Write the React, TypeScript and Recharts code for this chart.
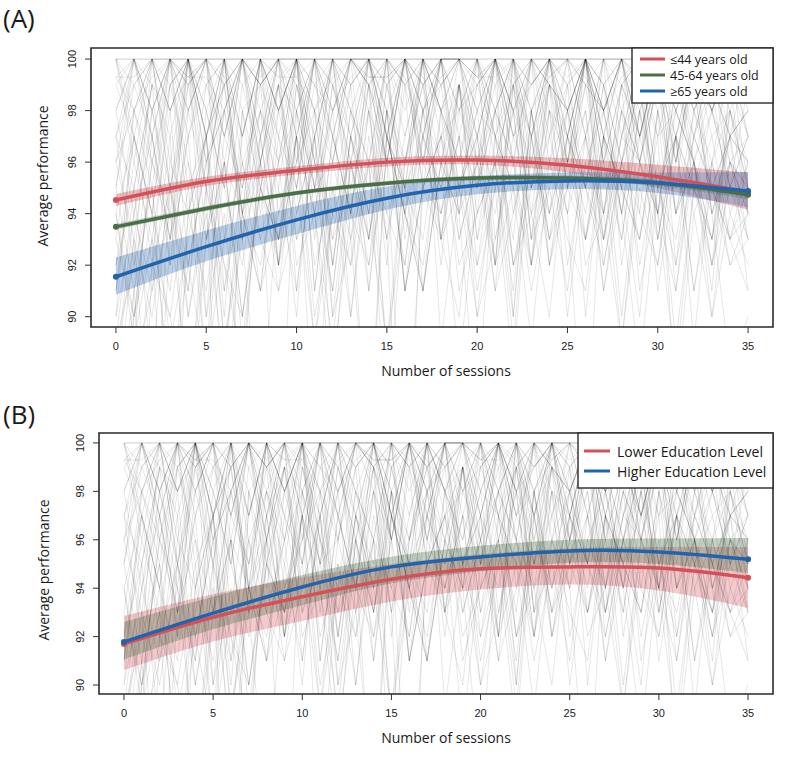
import React from "react";
import {
  ComposedChart,
  Line,
  Area,
  XAxis,
  YAxis,
  ReferenceArea,
} from "recharts";

// ---------- individual trajectories (performance per session 0..35) ----------
const s01 = [100,98,100,96,100,100,97,100,99,100,100,95, 100,98,100,100,100,97,100,100,99,100,96,100, 100,98,100,100,100,97,100,99,100,100,98,100];
const s02 = [92,95,88,96,94,97,90,98,95,93,99,96, 91,97,100,94,96,98,92,99,97,95,100,93, 98,96,99,94,97,100,95,98,96,93,99,97];
const s03 = [97,100,99,100,98,100,100,99,100,100,97,100, 100,100,99,100,98,100,100,100,100,99,100,97, 100,100,99,100,100,98,100,100,99,100,100,99];
const s04 = [85,90,93,80,94,91,96,89,95,93,97,90, 94,96,92,98,91,95,97,93,96,99,92,95, 98,94,97,93,96,99,94,97,95,92,96,94];
const s05 = [99.3,99.3,100,98,99.3,100,99.3,97,100,99.3,99.3,100, 98,100,99.3,99.3,100,99.3,98,100,99.3,100,99.3,97, 100,99.3,100,98,99.3,100,99.3,100,98,99.3,100,99.3];
const s06 = [94,89,97,92,100,95,78,98,93,96,100,91, 97,94,99,88,96,100,93,97,95,100,90,98, 94,97,100,92,96,99,93,97,91,96,98,95];
const s07 = [96,98,95,100,97,99,100,96,98,100,99,97, 100,98,96,100,99,100,97,98,100,96,99,100, 98,97,100,99,96,100,98,99,100,97,98,96];
const s08 = [88,93,84,95,91,97,89,94,96,82,98,92, 95,90,97,93,99,91,96,94,86,97,95,92, 98,90,96,94,99,91,95,97,89,96,93,91];
const s09 = [100,100,100,100,99,100,100,100,100,98,100,100, 100,100,100,99,100,100,100,100,100,100,98,100, 100,100,100,99,100,100,100,100,100,99,100,100];
const s10 = [91,96,93,98,90,95,100,94,97,92,99,95, 96,100,93,97,94,98,100,95,92,97,99,94, 96,100,93,98,95,97,100,94,96,92,98,94];
const s11 = [98,94,99,97,100,93,98,100,96,99,95,100, 97,94,100,98,96,99,100,95,98,97,100,93, 99,96,100,98,94,99,97,100,95,98,96,97];
const s12 = [82,91,95,89,93,97,86,94,92,96,90,98, 93,95,84,97,94,91,96,99,92,95,88,97, 93,96,98,91,95,93,97,87,94,96,92,93];
const s13 = [97,99,100,98,100,97,99,100,98,96,100,99, 97,100,98,100,99,96,100,98,99,100,97,100, 99,98,100,96,99,100,97,98,100,99,97,98];
const s14 = [93,90,96,94,91,98,95,92,97,100,93,96, 94,99,91,97,95,100,93,98,96,92,99,95, 97,94,100,96,93,98,95,97,99,94,96,95];
const s15 = [95,100,97,100,99,100,96,100,100,98,100,97, 100,100,99,100,100,96,100,100,98,100,99,100, 97,100,100,100,98,100,99,100,97,100,100,98];
const s16 = [87,76,92,90,95,88,93,96,91,94,97,85, 95,92,98,93,80,96,94,97,91,95,98,92, 96,94,84,97,95,93,98,91,96,94,88,90];
const s17 = [99,97,100,100,98,100,99,100,97,100,100,99, 98,100,100,97,100,99,100,100,98,100,97,99, 100,100,99,98,100,97,100,100,99,98,100,99];
const s18 = [90,94,97,93,99,95,91,97,100,94,96,98, 92,97,95,100,93,98,96,94,99,97,92,96, 100,95,98,93,97,96,100,94,98,95,97,96];
const s19 = [96,93,98,100,95,97,99,94,100,96,98,95, 100,97,93,99,96,100,98,95,97,100,96,94, 99,97,100,95,98,96,99,94,97,100,96,95];
const s20 = [84,88,91,94,87,93,96,90,95,92,97,94, 89,96,93,98,91,95,97,92,94,96,90,98, 93,95,97,91,96,94,92,97,95,93,96,94];
const s21 = [100,99,100,100,100,98,100,100,99,100,100,100, 97,100,100,100,99,100,100,98,100,100,100,99, 100,100,97,100,100,100,99,100,100,98,100,100];
const s22 = [94,97,92,99,96,93,98,95,100,92,97,94, 99,96,91,98,95,97,100,93,96,94,98,92, 97,99,95,93,98,96,94,99,97,95,93,96];
const s23 = [98,100,96,99,100,97,100,98,99,100,96,100, 99,97,100,98,100,99,96,100,97,100,98,99, 100,96,100,98,100,97,99,100,98,96,100,97];
const s24 = [89,92,95,86,94,97,92,90,96,93,98,95, 91,97,94,89,96,99,93,95,97,91,94,98, 92,96,93,97,95,90,98,94,96,92,95,93];
const s25 = [97,95,99,98,100,96,98,100,97,99,100,98, 96,100,99,97,100,98,99,100,96,98,100,97, 99,98,100,96,99,97,100,98,96,99,97,98];
const s26 = [92,97,94,91,98,95,100,93,96,99,94,97, 92,98,96,100,94,97,93,99,95,98,96,92, 100,97,94,99,96,93,98,95,100,94,97,96];
const s27 = [86,93,90,95,92,88,96,94,91,97,93,95, 98,90,96,94,92,97,95,99,93,96,91,98, 94,97,95,92,96,98,94,91,97,95,93,94];
const s28 = [99.3,100,98,100,99.3,100,100,97,100,99.3,100,100, 98,99.3,100,100,99.3,97,100,100,99.3,100,98,100, 99.3,100,100,97,100,99.3,100,98,100,100,99.3,100];
const s29 = [90,98,100,95,100,97,100,93,100,98,100,96, 100,94,100,99,100,95,100,97,100,92,100,98, 100,96,100,99,100,94,100,97,100,98,100,95];
const s30 = [95,91,98,94,100,90,97,95,99,92,100,96, 93,98,94,100,91,97,95,99,93,98,96,100, 92,97,95,99,94,98,91,96,100,95,97,93];
const s31 = [100,97,94,99,100,98,95,100,99,97,100,94, 98,100,99,96,100,98,94,99,100,97,95,100, 99,98,100,93,97,100,99,96,100,98,95,97];
const s32 = [81,90,94,87,92,96,89,93,85,95,91,97, 88,94,92,96,83,95,93,90,97,92,95,89, 96,93,91,97,94,88,95,92,96,90,94,92];
const s33 = [100,100,97,100,100,100,99,100,96,100,100,98, 100,100,100,97,100,99,100,100,95,100,100,99, 100,97,100,100,99,100,100,96,100,100,99,100];
const s34 = [89,95,99,92,97,88,100,94,91,98,95,100, 90,96,99,93,97,100,89,95,98,92,100,96, 94,99,90,97,95,100,93,98,96,91,99,94];
const s35 = [97,92,100,95,98,100,93,99,96,100,91,97, 100,95,98,92,100,96,99,94,100,97,93,100, 96,98,100,94,99,97,100,92,98,100,95,97];
const s36 = [79,87,92,95,90,94,88,96,93,91,97,89, 94,92,96,86,95,93,98,91,94,96,89,97, 92,95,93,97,90,96,94,88,95,93,97,91];
const s37 = [99.3,98,99.3,100,99.3,99.3,98,100,99.3,100,99.3,98, 99.3,100,99.3,99.3,100,98,99.3,100,99.3,99.3,100,98, 99.3,100,99.3,98,100,99.3,99.3,100,99.3,98,100,99.3];
const s38 = [93,98,96,100,94,99,97,100,95,98,100,93, 99,96,100,97,94,100,98,96,99,100,94,97, 100,98,95,100,97,99,94,100,96,98,100,97];
const s39 = [86,91,82,93,96,90,94,87,97,92,95,89, 96,93,85,97,94,91,96,88,95,98,92,94, 90,97,93,96,89,95,92,97,94,90,96,93];
const s40 = [98,100,100,99,100,97,100,100,100,98,100,100, 99,100,100,96,100,100,99,100,100,98,100,100, 100,99,100,97,100,100,100,98,100,100,99,100];
const s41 = [91,97,94,100,92,96,99,93,98,95,100,91, 97,94,99,96,92,98,100,94,96,91,99,97, 93,98,95,100,92,97,94,99,96,93,98,95];
const s42 = [95,99,97,93,100,96,98,94,100,97,95,99, 100,93,98,96,100,95,97,99,94,100,98,96, 99,95,100,97,93,98,100,96,99,94,97,98];
const s43 = [83,89,93,90,86,95,92,88,96,91,94,97, 90,93,96,89,94,92,97,95,90,93,96,91, 95,98,92,94,89,96,93,97,91,95,92,94];
const s44 = [100,96,100,98,100,100,95,100,99,100,97,100, 100,99,100,96,100,100,98,100,97,100,100,95, 100,99,100,98,100,96,100,100,99,100,97,100];
const s45 = [94,90,96,93,97,100,91,95,98,93,96,100, 92,97,94,99,95,91,98,96,100,93,97,95, 99,92,96,98,94,100,95,93,97,99,94,96];
const s46 = [96,100,98,95,99,100,97,100,94,99,98,100, 96,99,100,97,95,100,98,99,96,100,97,98, 100,95,99,98,100,96,99,97,100,98,95,99];
const s47 = [88,94,91,97,85,93,96,90,95,99,92,94, 87,96,93,98,91,95,94,97,90,96,99,93, 95,91,97,94,98,92,96,89,95,97,93,95];
const s48 = [99,100,98,100,100,99,100,97,100,100,98,100, 100,99,100,100,97,100,99,100,100,98,100,100, 99,100,97,100,100,99,100,100,98,100,99,100];

const subjects = [
  s01,s02,s03,s04,s05,s06,s07,s08,s09,s10,s11,s12,s13,s14,s15,s16,
  s17,s18,s19,s20,s21,s22,s23,s24,s25,s26,s27,s28,s29,s30,s31,s32,
  s33,s34,s35,s36,s37,s38,s39,s40,s41,s42,s43,s44,s45,s46,s47,s48,
];

// ---------- fitted curves ----------
const fitSessions = [0, 5, 10, 15, 20, 25, 30, 35];
const xTicks = [0, 5, 10, 15, 20, 25, 30, 35];
const yTicks = [90, 92, 94, 96, 98, 100];

// Panel A (age groups)
const young = [94.53, 95.25, 95.68, 96.0, 96.08, 95.88, 95.43, 94.84];
const youngLo = [94.3, 95.07, 95.52, 95.83, 95.9, 95.6, 95.0, 94.15];
const youngHi = [94.76, 95.43, 95.84, 96.17, 96.26, 96.15, 95.9, 95.6];
const middle = [93.49, 94.2, 94.8, 95.18, 95.38, 95.38, 95.2, 94.73];
const middleLo = [93.38, 94.1, 94.71, 95.09, 95.29, 95.28, 95.07, 94.55];
const middleHi = [93.6, 94.3, 94.89, 95.27, 95.47, 95.48, 95.33, 94.91];
const older = [91.55, 92.72, 93.76, 94.6, 95.1, 95.27, 95.19, 94.88];
const olderLo = [90.85, 92.15, 93.2, 94.15, 94.75, 94.95, 94.8, 94.25];
const olderHi = [92.3, 93.35, 94.3, 95.05, 95.45, 95.6, 95.6, 95.62];

// Panel B (education)
const lowerEdu = [91.7, 92.8, 93.65, 94.37, 94.8, 94.88, 94.83, 94.43];
const lowerEduLo = [90.62, 91.8, 92.65, 93.45, 93.95, 94.15, 93.9, 93.18];
const lowerEduHi = [92.85, 93.75, 94.45, 95.0, 95.4, 95.65, 95.7, 95.7];
const higherEdu = [91.78, 92.97, 94.05, 94.88, 95.29, 95.54, 95.5, 95.2];
const higherEduLo = [91.05, 92.3, 93.3, 94.2, 94.7, 95.05, 95.0, 94.63];
const higherEduHi = [92.6, 93.65, 94.55, 95.3, 95.75, 96.0, 96.05, 96.07];

const RED = "#D6505A";
const GREEN = "#4A6F48";
const BLUE = "#2063AE";

const subjectData = subjects.map((arr) => arr.map((v, i) => ({ s: i, v })));

const fitA = fitSessions.map((s, i) => ({
  s,
  young: young[i],
  youngBand: [youngLo[i], youngHi[i]],
  middle: middle[i],
  middleBand: [middleLo[i], middleHi[i]],
  older: older[i],
  olderBand: [olderLo[i], olderHi[i]],
}));

const fitB = fitSessions.map((s, i) => ({
  s,
  lower: lowerEdu[i],
  lowerBand: [lowerEduLo[i], lowerEduHi[i]],
  higher: higherEdu[i],
  higherBand: [higherEduLo[i], higherEduHi[i]],
}));

const TICK_FONT = "'Liberation Sans', Arial, sans-serif";
const TITLE_FONT = "'Open Sans', 'Noto Sans', sans-serif";

const YTick = (props: any) => {
  const { x, y, payload } = props;
  const cx = x - 13;
  return (
    <text
      x={cx}
      y={y}
      transform={`rotate(-90 ${cx} ${y})`}
      textAnchor="middle"
      dominantBaseline="central"
      fontSize={11}
      fontFamily={TICK_FONT}
      fill="#222"
    >
      {payload.value}
    </text>
  );
};

const XTick = (props: any) => {
  const { x, y, payload } = props;
  return (
    <text
      x={x}
      y={y}
      dy="0.71em"
      textAnchor="middle"
      fontSize={11}
      fontFamily={TICK_FONT}
      fill="#222"
    >
      {payload.value}
    </text>
  );
};

const endDot = (color: string) => (p: any) => {
  if (p.index === 0 || p.index === fitSessions.length - 1) {
    return <circle key={p.index} cx={p.cx} cy={p.cy} r={3} fill={color} stroke="none" />;
  }
  return <g key={p.index} />;
};

function Panel(props: {
  top: number;
  height: number;
  margin: { top: number; right: number; bottom: number; left: number };
  xDomain: [number, number];
  yDomain: [number, number];
  children: React.ReactNode;
}) {
  const { top, height, margin, xDomain, yDomain, children } = props;
  return (
    <div style={{ position: "absolute", left: 0, top }}>
      <ComposedChart width={800} height={height} margin={margin}>
        <XAxis
          type="number"
          dataKey="s"
          domain={xDomain}
          ticks={xTicks}
          allowDataOverflow
          axisLine={false}
          tickSize={6}
          tickMargin={9}
          tickLine={{ stroke: "#333", strokeWidth: 1 }}
          tick={<XTick />}
          height={30}
        />
        <YAxis
          type="number"
          domain={yDomain}
          ticks={yTicks}
          allowDataOverflow
          axisLine={false}
          tickSize={6}
          tickMargin={0}
          tickLine={{ stroke: "#333", strokeWidth: 1 }}
          tick={<YTick />}
          width={30}
        />
        {subjectData.map((d, i) => (
          <Line
            key={"subj" + i}
            data={d}
            dataKey="v"
            type="linear"
            stroke="#000"
            strokeOpacity={0.17}
            strokeWidth={0.6}
            dot={false}
            activeDot={false}
            isAnimationActive={false}
            legendType="none"
          />
        ))}
        {children}
        <ReferenceArea
          x1={xDomain[0]}
          x2={xDomain[1]}
          y1={yDomain[0]}
          y2={yDomain[1]}
          fill="none"
          stroke="#2a2a2a"
          strokeWidth={1.6}
          ifOverflow="visible"
        />
      </ComposedChart>
    </div>
  );
}

export default function App() {
  return (
    <div style={{ position: "absolute", left: 0, top: 0, width: 800, height: 759, background: "#fff" }}>
      {/* Panel A */}
      <Panel
        top={0}
        height={380}
        margin={{ top: 48, right: 27, bottom: 23, left: 61 }}
        xDomain={[-1.38, 36.38]}
        yDomain={[89.6, 100.43]}
      >
        <Area data={fitA} dataKey="youngBand" type="natural" fill={RED} fillOpacity={0.35} stroke="none" isAnimationActive={false} activeDot={false} />
        <Area data={fitA} dataKey="middleBand" type="natural" fill={GREEN} fillOpacity={0.3} stroke="none" isAnimationActive={false} activeDot={false} />
        <Area data={fitA} dataKey="olderBand" type="natural" fill="#4F86C6" fillOpacity={0.38} stroke="none" isAnimationActive={false} activeDot={false} />
        <Line data={fitA} dataKey="young" type="natural" stroke={RED} strokeWidth={3.5} dot={endDot(RED)} activeDot={false} isAnimationActive={false} />
        <Line data={fitA} dataKey="middle" type="natural" stroke={GREEN} strokeWidth={3.5} dot={endDot(GREEN)} activeDot={false} isAnimationActive={false} />
        <Line data={fitA} dataKey="older" type="natural" stroke={BLUE} strokeWidth={3.5} dot={endDot(BLUE)} activeDot={false} isAnimationActive={false} />
      </Panel>

      {/* Panel B */}
      <Panel
        top={380}
        height={379}
        margin={{ top: 53, right: 27, bottom: 35, left: 69 }}
        xDomain={[-1.4, 36.4]}
        yDomain={[89.63, 100.41]}
      >
        <Area data={fitB} dataKey="lowerBand" type="natural" fill="#E0666F" fillOpacity={0.35} stroke="none" isAnimationActive={false} activeDot={false} />
        <Area data={fitB} dataKey="higherBand" type="natural" fill="#557A55" fillOpacity={0.35} stroke="none" isAnimationActive={false} activeDot={false} />
        <Line data={fitB} dataKey="lower" type="natural" stroke={RED} strokeWidth={3.5} dot={endDot(RED)} activeDot={false} isAnimationActive={false} />
        <Line data={fitB} dataKey="higher" type="natural" stroke={BLUE} strokeWidth={3.5} dot={endDot(BLUE)} activeDot={false} isAnimationActive={false} />
      </Panel>

      {/* Titles, labels and legends */}
      <svg width={800} height={759} style={{ position: "absolute", left: 0, top: 0, pointerEvents: "none" }}>
        <g fontFamily={TITLE_FONT} fill="#1a1a1a">
          <text x={3} y={28} fontSize={26}>(A)</text>
          <text x={3} y={424} fontSize={26}>(B)</text>

          <text x={446} y={370} fontSize={14} textAnchor="middle" dominantBaseline="central">Number of sessions</text>
          <text x={42} y={176} fontSize={14} textAnchor="middle" dominantBaseline="central" transform="rotate(-90 42 176)">Average performance</text>

          <text x={446} y={737} fontSize={14} textAnchor="middle" dominantBaseline="central">Number of sessions</text>
          <text x={43} y={570} fontSize={14} textAnchor="middle" dominantBaseline="central" transform="rotate(-90 43 570)">Average performance</text>
        </g>

        {/* Legend A */}
        <rect x={632} y={48} width={141} height={55} fill="#fff" stroke="#2a2a2a" strokeWidth={1.4} />
        <line x1={640} x2={665} y1={59} y2={59} stroke={RED} strokeWidth={3} />
        <line x1={640} x2={665} y1={75} y2={75} stroke={GREEN} strokeWidth={3} />
        <line x1={640} x2={665} y1={91} y2={91} stroke={BLUE} strokeWidth={3} />
        <g fontFamily={TITLE_FONT} fontSize={12.5} fill="#1a1a1a">
          <text x={670} y={59} dominantBaseline="central">≤44 years old</text>
          <text x={670} y={75} dominantBaseline="central">45-64 years old</text>
          <text x={670} y={91} dominantBaseline="central">≥65 years old</text>
        </g>

        {/* Legend B */}
        <rect x={578} y={433} width={195} height={55} fill="#fff" stroke="#2a2a2a" strokeWidth={1.4} />
        <line x1={584} x2={610} y1={451} y2={451} stroke={RED} strokeWidth={3} />
        <line x1={584} x2={610} y1={471} y2={471} stroke={BLUE} strokeWidth={3} />
        <g fontFamily={TITLE_FONT} fontSize={14} fill="#1a1a1a">
          <text x={617} y={451} dominantBaseline="central">Lower Education Level</text>
          <text x={617} y={471} dominantBaseline="central">Higher Education Level</text>
        </g>
      </svg>
    </div>
  );
}
